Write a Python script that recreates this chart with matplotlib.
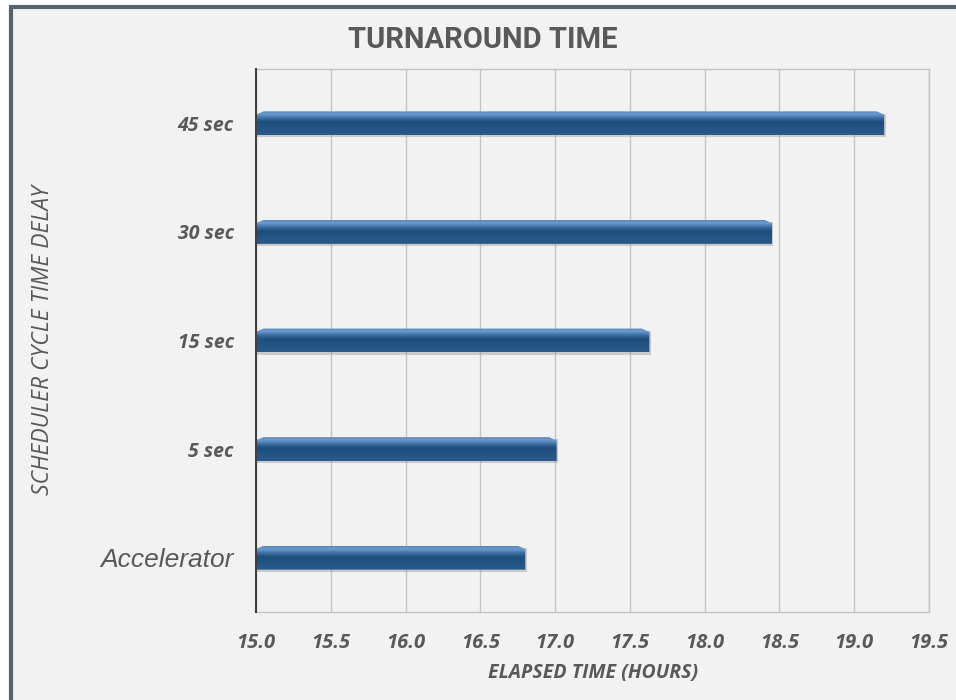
import numpy as np
import matplotlib.pyplot as plt
from matplotlib.patches import Polygon, Rectangle
from matplotlib.colors import LinearSegmentedColormap

# scheduler delay settings, bottom to top
categories = ['Accelerator', '5 sec', '15 sec', '30 sec', '45 sec']
elapsed_hours = [16.80, 17.01, 17.63, 18.45, 19.20]
x_ticks = [15.0, 15.5, 16.0, 16.5, 17.0, 17.5, 18.0, 18.5, 19.0, 19.5]

text_grey = '#595959'
bar_h = 0.22

# vertical shading of a bar: light rim on top, dark body below
bar_cmap = LinearSegmentedColormap.from_list(
    'bevel', [(0.0, '#2a5a8c'), (0.55, '#1f4e7c'), (0.72, '#3f70a6'),
              (0.88, '#6b9bd0'), (1.0, '#5a88bd')])

fig = plt.figure(figsize=(9.56, 7.0), dpi=100)
fig.patch.set_facecolor('white')

# framed panel, runs off the right and bottom edges
fig.patches.append(Rectangle((0.011, -0.05), 1.05, 1.04, transform=fig.transFigure,
                             facecolor='#f2f2f2', edgecolor='#56636f', linewidth=3.0,
                             zorder=-10))

ax = fig.add_axes([0.2678, 0.1257, 0.704, 0.7757])
ax.set_facecolor('none')
ax.set_xlim(15.0, 19.5)
ax.set_ylim(-0.5, len(categories) - 0.5)

ax.set_xticks(x_ticks)
ax.set_xticklabels(['%.1f' % t for t in x_ticks], family='Open Sans', style='italic',
                   weight='bold', fontsize=14.5, color=text_grey)
ax.set_yticks(range(len(categories)))
ax.set_yticklabels(categories, family='Open Sans', style='italic', weight='bold',
                   fontsize=14, color=text_grey)
acc = ax.get_yticklabels()[0]
acc.set_family('Liberation Sans')
acc.set_weight('normal')
acc.set_fontsize(19)

ax.tick_params(axis='both', length=0)
ax.tick_params(axis='x', pad=15)
ax.tick_params(axis='y', pad=16)

ax.grid(axis='x', color='#c4c4c4', linewidth=1.0)
ax.set_axisbelow(True)
for side in ['top', 'right', 'bottom']:
    ax.spines[side].set_color('#c4c4c4')
    ax.spines[side].set_linewidth(1.0)
ax.spines['left'].set_color('#404040')
ax.spines['left'].set_linewidth(1.5)
ax.spines['left'].set_zorder(5)

grad = np.linspace(0, 1, 64).reshape(-1, 1)
chamfer = 0.05
for i, v in enumerate(elapsed_hours):
    y0, y1 = i - bar_h / 2, i + bar_h / 2
    # drop shadow under the bar
    ax.add_patch(Rectangle((15.0, y0 - 0.02), v - 15.0 + 0.01, bar_h,
                           facecolor='#9a9a9a', edgecolor='none', alpha=0.45, zorder=2))
    outline = Polygon([(15.0, y0), (v, y0), (v, y1 - 0.03), (v - chamfer, y1),
                       (15.0 + chamfer, y1), (15.0, y1 - 0.03)],
                      closed=True, facecolor='none', edgecolor='none')
    ax.add_patch(outline)
    im = ax.imshow(grad, cmap=bar_cmap, origin='lower', aspect='auto',
                   extent=(15.0, v, y0, y1), zorder=3, interpolation='bilinear')
    im.set_clip_path(outline)

ax.set_xlim(15.0, 19.5)
ax.set_ylim(-0.5, len(categories) - 0.5)

fig.text(0.505, 0.943, 'TURNAROUND TIME', ha='center', va='center',
         family='Roboto', weight='bold', fontsize=21, color=text_grey)
fig.text(0.620, 0.039, 'ELAPSED TIME (HOURS)', ha='center', va='center',
         family='Open Sans', style='italic', weight='bold', fontsize=14, color=text_grey)
fig.text(0.045, 0.514, 'SCHEDULER CYCLE TIME DELAY', ha='center', va='center',
         rotation=90, family='Open Sans', style='italic', fontsize=16.5, color=text_grey)

fig.savefig('out.png', dpi=100)
